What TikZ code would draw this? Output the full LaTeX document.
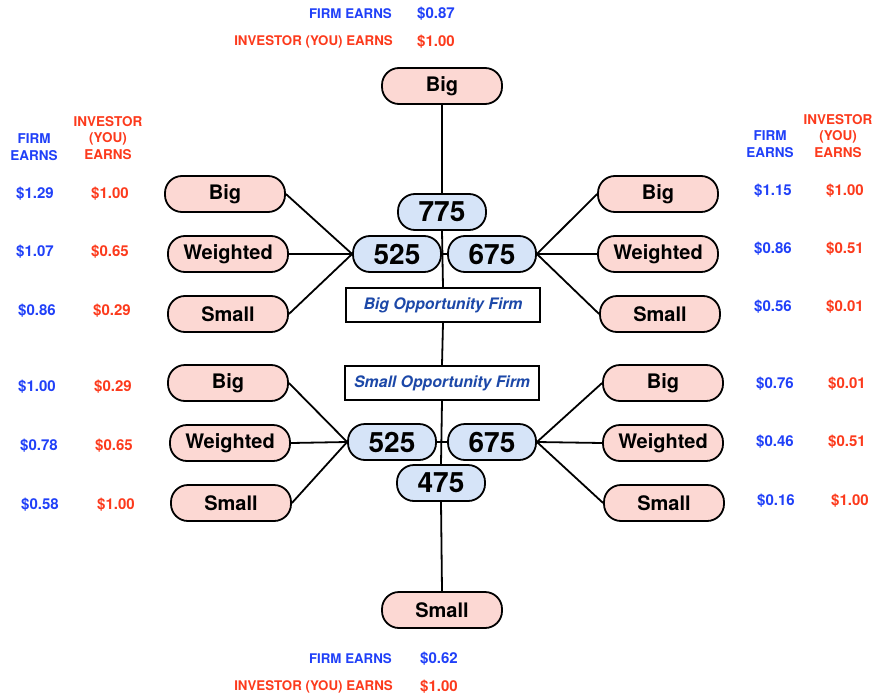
\documentclass[tikz,border=0pt]{standalone}
\usepackage{fontspec}
\setmainfont{TeX Gyre Heros}
\definecolor{pinkfill}{HTML}{FCD8D3}
\definecolor{bluefill}{HTML}{D6E4F8}
\definecolor{firmblue}{HTML}{2040F8}
\definecolor{invred}{HTML}{FC3A1C}
\definecolor{oppblue}{HTML}{1C48A8}
\tikzset{
  leaf/.style={draw=black, line width=1.8pt, fill=pinkfill, rounded corners=17pt, minimum width=120pt, minimum height=36pt, inner sep=0pt, font=\fontsize{20}{24}\selectfont\bfseries},
  num/.style={draw=black, line width=1.8pt, fill=bluefill, rounded corners=17pt, minimum width=88pt, minimum height=36pt, inner sep=0pt, font=\fontsize{28}{32}\selectfont\bfseries},
  opp/.style={draw=black, line width=1.8pt, fill=white, minimum width=194pt, minimum height=34pt, inner sep=0pt, text=oppblue, font=\fontsize{15.8}{18}\selectfont\bfseries\itshape},
  conn/.style={line width=1.8pt, draw=black},
  firm/.style={text=firmblue, font=\fontsize{15}{17}\selectfont\bfseries, align=center, inner sep=0pt},
  inv/.style={text=invred, font=\fontsize{15}{17}\selectfont\bfseries, align=center, inner sep=0pt},
  lab/.style={font=\fontsize{13.3}{16}\selectfont\bfseries, inner sep=0pt},
  hfirm/.style={text=firmblue, font=\fontsize{13.5}{16.5}\selectfont\bfseries, align=center, inner sep=0pt},
  hinv/.style={text=invred, font=\fontsize{13.5}{16.5}\selectfont\bfseries, align=center, inner sep=0pt},
}
\begin{document}
\begin{tikzpicture}[x=1pt,y=-1pt]
\useasboundingbox (0,0) rectangle (880,698);
% central nodes
\node[leaf] (topbig) at (442,86) {Big};
\node[num] (n775) at (442,212) {775};
\node[num] (n525a) at (397,254) {525};
\node[num] (n675a) at (492,254) {675};
\node[opp] (bigopp) at (443,305) {Big Opportunity Firm};
\node[opp] (smallopp) at (442,383) {Small Opportunity Firm};
\node[num] (n525b) at (392,442) {525};
\node[num] (n675b) at (492,442) {675};
\node[num] (n475) at (441,483) {475};
\node[leaf] (botsmall) at (442,610) {Small};
% left leaves
\node[leaf] (lbig1) at (225,194) {Big};
\node[leaf] (lw1) at (228,254) {Weighted};
\node[leaf] (ls1) at (228,314) {Small};
\node[leaf] (lbig2) at (228,383) {Big};
\node[leaf] (lw2) at (230,443) {Weighted};
\node[leaf] (ls2) at (231,503) {Small};
% right leaves
\node[leaf] (rbig1) at (658,194) {Big};
\node[leaf] (rw1) at (658,254) {Weighted};
\node[leaf] (rs1) at (660,314) {Small};
\node[leaf] (rbig2) at (663,383) {Big};
\node[leaf] (rw2) at (663,443) {Weighted};
\node[leaf] (rs2) at (664,503) {Small};
% connectors
\draw[conn] (topbig.south) -- (n775.north);
\draw[conn] (n775.south) -- (bigopp.north);
\draw[conn] (n525a.east) -- (n675a.west);
\draw[conn] (bigopp.south) -- (smallopp.north);
\draw[conn] (smallopp.south) -- (n475.north);
\draw[conn] (n475.south) -- (botsmall.north);
\draw[conn] (n525b.east) -- (n675b.west);
\foreach \l in {lbig1,lw1,ls1} \draw[conn] (\l.east) -- (n525a.west);
\foreach \r in {rbig1,rw1,rs1} \draw[conn] (\r.west) -- (n675a.east);
\foreach \l in {lbig2,lw2,ls2} \draw[conn] (\l.east) -- (n525b.west);
\foreach \r in {rbig2,rw2,rs2} \draw[conn] (\r.west) -- (n675b.east);
% top / bottom labels
\node[lab, text=firmblue, anchor=east] (tfl) at (392,14) {FIRM EARNS};
\node[firm, anchor=west] (tfv) at (417,14) {\$0.87};
\node[lab, text=invred, anchor=east] (til) at (393,42) {INVESTOR (YOU) EARNS};
\node[inv, anchor=west] (tiv) at (417,42) {\$1.00};
\node[lab, text=firmblue, anchor=east] (bfl) at (392,659) {FIRM EARNS};
\node[firm, anchor=west] (bfv) at (420,659) {\$0.62};
\node[lab, text=invred, anchor=east] (bil) at (393,687) {INVESTOR (YOU) EARNS};
\node[inv, anchor=west] (biv) at (420,687) {\$1.00};
% headers
\node[hfirm] (lhf) at (34,147) {FIRM\\EARNS};
\node[hinv] (lhi) at (108,138) {INVESTOR\\(YOU)\\EARNS};
\node[hfirm] (rhf) at (770,144) {FIRM\\EARNS};
\node[hinv] (rhi) at (838,136) {INVESTOR\\(YOU)\\EARNS};
% left values
\node[firm] (lv1) at (35,194) {\$1.29};  \node[inv] (li1) at (110,194) {\$1.00};
\node[firm] (lv2) at (35,252) {\$1.07};  \node[inv] (li2) at (110,252) {\$0.65};
\node[firm] (lv3) at (37,311) {\$0.86};  \node[inv] (li3) at (112,311) {\$0.29};
\node[firm] (lv4) at (37,387) {\$1.00};  \node[inv] (li4) at (113,387) {\$0.29};
\node[firm] (lv5) at (39,446) {\$0.78};  \node[inv] (li5) at (114,446) {\$0.65};
\node[firm] (lv6) at (40,505) {\$0.58};  \node[inv] (li6) at (116,505) {\$1.00};
% right values
\node[firm] (rv1) at (773,191) {\$1.15};  \node[inv] (ri1) at (845,191) {\$1.00};
\node[firm] (rv2) at (773,249) {\$0.86};  \node[inv] (ri2) at (845,249) {\$0.51};
\node[firm] (rv3) at (773,307) {\$0.56};  \node[inv] (ri3) at (845,307) {\$0.01};
\node[firm] (rv4) at (775,384) {\$0.76};  \node[inv] (ri4) at (847,384) {\$0.01};
\node[firm] (rv5) at (775,442) {\$0.46};  \node[inv] (ri5) at (847,442) {\$0.51};
\node[firm] (rv6) at (776,501) {\$0.16};  \node[inv] (ri6) at (850,501) {\$1.00};
\end{tikzpicture}
\end{document}
